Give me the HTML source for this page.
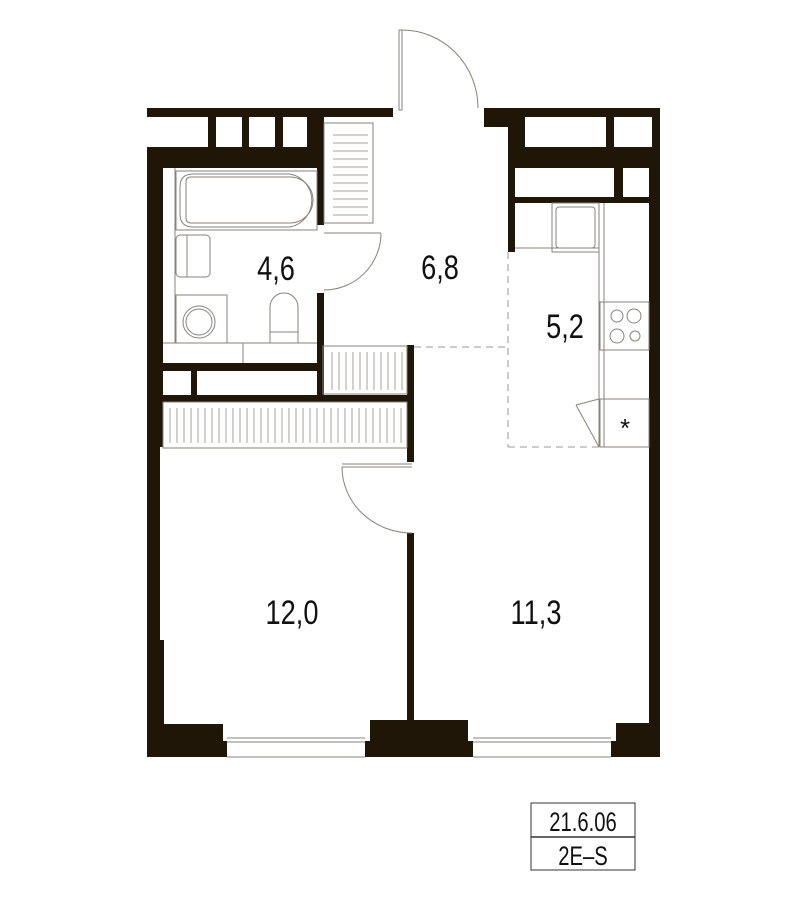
<!DOCTYPE html>
<html><head><meta charset="utf-8"><style>
html,body{margin:0;padding:0;background:#fff;}
svg{display:block;}
text{font-family:"Liberation Sans",sans-serif;fill:#111;}
</style></head><body>
<svg width="800" height="900" viewBox="0 0 800 900" xmlns="http://www.w3.org/2000/svg">
<g fill="#1f1607">
<rect x="147" y="108" width="246" height="9"/>
<rect x="208" y="117" width="8" height="30"/>
<rect x="242" y="117" width="7" height="30"/>
<rect x="275" y="117" width="8" height="30"/>
<rect x="307" y="117" width="17" height="30"/>
<rect x="147" y="147" width="177" height="21"/>
<rect x="317" y="147" width="7" height="78"/>
<rect x="317" y="293" width="7" height="109"/>
<rect x="147" y="147" width="16" height="300"/>
<rect x="147" y="447" width="13" height="193"/>
<rect x="147" y="640" width="17" height="117"/>
<rect x="163" y="363" width="161" height="8"/>
<rect x="191" y="371" width="6" height="25"/>
<rect x="163" y="395" width="250" height="7"/>
<rect x="407" y="345" width="7" height="117"/>
<rect x="484" y="108" width="176" height="9"/>
<rect x="484" y="117" width="27" height="10"/>
<rect x="508" y="117" width="7" height="135"/>
<rect x="515" y="117" width="10" height="30"/>
<rect x="606" y="117" width="8" height="30"/>
<rect x="652" y="117" width="8" height="30"/>
<rect x="508" y="147" width="152" height="21"/>
<rect x="614" y="168" width="9" height="29"/>
<rect x="649" y="168" width="11" height="589"/>
<rect x="508" y="197" width="152" height="6"/>
<rect x="407" y="533" width="7" height="190"/>
<rect x="147" y="741" width="80" height="16"/>
<rect x="164" y="724" width="59" height="17"/>
<rect x="365" y="741" width="108" height="16"/>
<rect x="370" y="720" width="98" height="21"/>
<rect x="611" y="741" width="49" height="16"/>
<rect x="616" y="723" width="33" height="18"/>
</g>
<g fill="none" stroke="#8a8278" stroke-width="1">
<rect x="399" y="30" width="3" height="80"/>
<path d="M402 30 A76 78 0 0 1 478 108"/>
<line x1="227" y1="738" x2="365" y2="738"/><line x1="227" y1="742" x2="365" y2="742"/>
<line x1="473" y1="738" x2="611" y2="738"/><line x1="473" y1="742" x2="611" y2="742"/>
<line x1="227" y1="757" x2="365" y2="757"/><line x1="473" y1="757" x2="611" y2="757"/>
<line x1="324" y1="233" x2="381" y2="233"/>
<path d="M381 233 A57 57 0 0 1 324 290"/>
<line x1="342" y1="464" x2="412" y2="464"/>
<line x1="342" y1="467" x2="412" y2="467"/>
<path d="M342 467 A70 66 0 0 0 412 533"/>
<line x1="175" y1="168" x2="175" y2="343"/>
<rect x="176" y="171" width="141" height="59"/>
<path d="M191 177 H290 A23 23 0 0 1 290 223 H191 Q186 223 186 218 V182 Q186 177 191 177 Z"/>
<path d="M193 174 H290 A27 27 0 0 1 290 227 H193 Q180 227 180 214 V187 Q180 174 193 174 Z"/>
<rect x="176" y="235" width="34" height="42" rx="4"/>
<line x1="187" y1="235" x2="187" y2="277"/>
<rect x="176" y="295" width="51" height="48"/>
<circle cx="199" cy="322" r="16"/><circle cx="199" cy="322" r="13"/>
<path d="M270 343 V307 A14 14 0 0 1 298 307 V343 Z"/>
<line x1="270" y1="332" x2="298" y2="332"/>
<line x1="163" y1="343" x2="317" y2="343"/>
<line x1="243" y1="343" x2="243" y2="363"/>
<rect x="324" y="123" width="49" height="100"/>
<rect x="323" y="346" width="84" height="48"/>
<rect x="163" y="402" width="244" height="46"/>
<rect x="552" y="203" width="47" height="49"/>
<rect x="556" y="207" width="39" height="41" rx="3"/>
<line x1="515" y1="248" x2="599" y2="248"/>
<line x1="599" y1="203" x2="599" y2="447"/>
<line x1="604" y1="203" x2="604" y2="447"/>
<rect x="600" y="302" width="49" height="48"/>
<circle cx="617" cy="316" r="6"/><circle cx="634" cy="316" r="7"/>
<circle cx="617" cy="336" r="7"/><circle cx="635" cy="336" r="5"/>
<rect x="600" y="399" width="49" height="48"/>
<path d="M576 405 L599 399 M576 405 L599 447"/>
<line x1="600" y1="350" x2="649" y2="350"/>
</g>
<g stroke="#a8a298" stroke-width="1" fill="none">
<path d="M333 135 H368 M333 143 H368 M333 151 H368 M333 159 H368 M333 167 H368 M333 175 H368 M333 183 H368 M333 191 H368 M333 199 H368 M333 207 H368 M333 215 H368"/>
<path d="M332 352 V390 M339 352 V390 M346 352 V390 M353 352 V390 M360 352 V390 M367 352 V390 M374 352 V390 M381 352 V390 M388 352 V390 M395 352 V390 M402 352 V390"/>
<path d="M170 408 V443 M177 408 V443 M184 408 V443 M191 408 V443 M198 408 V443 M205 408 V443 M212 408 V443 M219 408 V443 M226 408 V443 M233 408 V443 M240 408 V443 M247 408 V443 M254 408 V443 M261 408 V443 M268 408 V443 M275 408 V443 M282 408 V443 M289 408 V443 M296 408 V443 M303 408 V443 M310 408 V443 M317 408 V443 M324 408 V443 M331 408 V443 M338 408 V443 M345 408 V443 M352 408 V443 M359 408 V443 M366 408 V443 M373 408 V443 M380 408 V443 M387 408 V443 M394 408 V443 M401 408 V443"/>
</g>
<g stroke="#999" stroke-width="1" stroke-dasharray="7,5" fill="none">
<line x1="414" y1="347" x2="508" y2="347"/>
<line x1="508" y1="252" x2="508" y2="447"/>
<line x1="508" y1="447" x2="599" y2="447"/>
</g>
<text x="625" y="437" font-size="26" text-anchor="middle" fill="#999">*</text>
<g font-size="34" text-anchor="middle">
<text x="276" y="280" transform="translate(276 0) scale(0.8 1) translate(-276 0)">4,6</text>
<text x="440" y="279" transform="translate(440 0) scale(0.8 1) translate(-440 0)">6,8</text>
<text x="565" y="338" transform="translate(565 0) scale(0.8 1) translate(-565 0)">5,2</text>
<text x="292" y="624" transform="translate(292 0) scale(0.8 1) translate(-292 0)">12,0</text>
<text x="536" y="624" transform="translate(536 0) scale(0.8 1) translate(-536 0)">11,3</text>
</g>
<rect x="531" y="803" width="104" height="67" fill="none" stroke="#333" stroke-width="1"/>
<line x1="531" y1="837" x2="635" y2="837" stroke="#333" stroke-width="1.5"/>
<g font-size="27" text-anchor="middle">
<text x="583" y="831" transform="translate(583 0) scale(0.75 1) translate(-583 0)">21.6.06</text>
<text x="583" y="865" transform="translate(583 0) scale(0.75 1) translate(-583 0)">2E–S</text>
</g>
</svg>
</body></html>
